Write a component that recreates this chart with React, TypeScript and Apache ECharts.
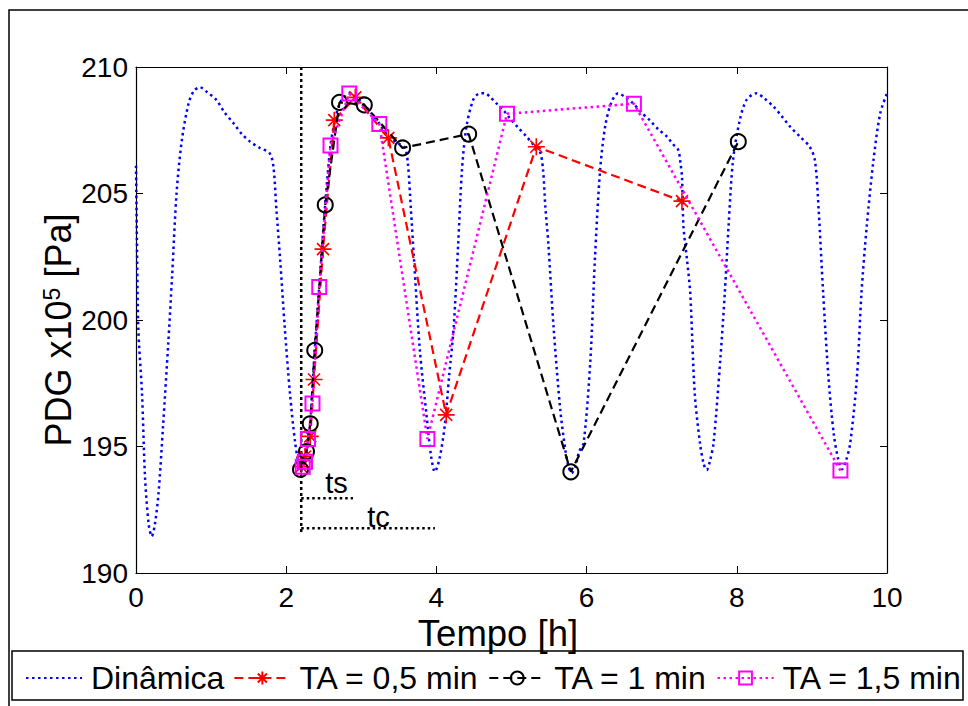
import React, { useEffect, useRef } from "react";
import * as echarts from "echarts";

// Dynamic response (blue dotted)
const dynT = [0, 0.01, 0.03, 0.08, 0.12, 0.17, 0.21, 0.25, 0.3, 0.36, 0.43, 0.48, 0.54, 0.61, 0.7, 0.77, 0.85, 0.95, 1.07, 1.18, 1.3, 1.41, 1.52, 1.65, 1.78, 1.83, 1.87, 1.92, 1.98, 2.05, 2.12, 2.17, 2.21,
  2.25, 2.29, 2.32, 2.38, 2.44, 2.52, 2.59, 2.65, 2.71, 2.78, 2.84, 2.92, 3.04, 3.14, 3.24, 3.36, 3.48, 3.58, 3.62, 3.66, 3.7, 3.78, 3.87, 3.93, 3.98,
  4.04, 4.11, 4.17, 4.23, 4.29, 4.34, 4.4, 4.49, 4.57, 4.65, 4.72, 4.8, 4.89, 4.98, 5.09, 5.2, 5.3, 5.38, 5.42, 5.45, 5.49, 5.56, 5.65, 5.72, 5.76, 5.8,
  5.85, 5.9, 5.96, 6.05, 6.11, 6.18, 6.25, 6.33, 6.42, 6.52, 6.62, 6.73, 6.84, 6.95, 7.07, 7.15, 7.22, 7.25, 7.27, 7.29, 7.34, 7.38, 7.44, 7.51, 7.56, 7.6,
  7.64, 7.69, 7.78, 7.84, 7.89, 7.95, 8.04, 8.13, 8.26, 8.37, 8.49, 8.6, 8.71, 8.84, 8.97, 9.04, 9.09, 9.15, 9.22, 9.29, 9.35, 9.4,
  9.45, 9.51, 9.6, 9.66, 9.73, 9.82, 9.91, 10.0];
const dynV = [206.1, 203.7, 199.7, 197.1, 193.8, 191.9, 191.45, 191.9, 193.15, 195.8, 199.1, 201.7, 205.0, 207.1, 208.56, 209.05, 209.2, 209.0, 208.7, 208.2, 207.77, 207.35, 207.05, 206.8, 206.59, 206.06, 204.35, 202.37, 199.74, 197.1, 195.13, 194.3, 194.1,
  194.4, 195.2, 195.9, 198.8, 201.3, 204.6, 206.9, 207.9, 208.55, 208.85, 208.96, 208.85, 208.5, 208.15, 207.77, 207.25, 207.0, 206.8, 206.2, 204.4, 202.5, 198.8, 196.2, 194.6, 194.0,
  194.5, 195.8, 197.8, 199.7, 203.0, 205.9, 207.64, 208.7, 208.95, 208.96, 208.8, 208.56, 208.3, 207.97, 207.6, 207.25, 206.9, 206.65, 205.93, 204.5, 203.03, 199.73, 196.44, 194.8, 194.2, 193.95,
  194.2, 194.8, 195.13, 198.4, 202.37, 205.93, 207.7, 208.6, 208.96, 208.8, 208.56, 208.2, 207.9, 207.55, 207.25, 206.95, 206.72, 206.2, 205.66, 203.7, 202.3, 201.06, 197.1, 195.13, 194.3, 194.07,
  194.4, 195.13, 198.42, 201.06, 203.7, 206.32, 207.9, 208.7, 208.96, 208.75, 208.43, 208.05, 207.64, 207.25, 206.85, 206.32, 204.35, 201.06, 197.76, 195.52, 194.5, 194.1,
  194.4, 195.13, 197.76, 201.06, 203.7, 206.32, 208.17, 208.96];

// TA = 0,5 min (red, stars)
const redT = [2.2, 2.25, 2.32, 2.37, 2.49, 2.64, 2.92, 3.36, 4.13, 5.33, 7.27];
const redV = [194.2, 194.6, 195.4, 197.65, 202.8, 207.9, 208.8, 207.2, 196.25, 206.85, 204.7];

// TA = 1 min (black, circles)
const blkT = [2.19, 2.27, 2.32, 2.38, 2.52, 2.71, 3.04, 3.55, 4.43, 5.79, 8.02];
const blkV = [194.1, 194.8, 195.9, 198.8, 204.55, 208.6, 208.5, 206.8, 207.35, 194.0, 207.05];

// TA = 1,5 min (magenta, squares)
const magT = [2.22, 2.25, 2.29, 2.35, 2.44, 2.59, 2.84, 3.24, 3.88, 4.94, 6.63, 9.38];
const magV = [194.2, 194.4, 195.3, 196.7, 201.3, 206.9, 208.95, 207.75, 195.3, 208.15, 208.55, 194.05];

// Annotation lines (ts, tc)
const vLineT = [2.2, 2.2];
const vLineV = [210, 191.5];
const tsT = [2.2, 2.89];
const tsV = [192.95, 192.95];
const tcT = [2.2, 3.98];
const tcV = [191.77, 191.77];
const annoLabels = ["ts", "tc"];
const annoT = [2.67, 3.23];
const annoV = [193.55, 192.2];

const xTicks = { min: 0, max: 10, interval: 2 };
const yTicks = { min: 190, max: 210, interval: 5 };
const legendNames = ["Dinâmica", "TA = 0,5 min", "TA = 1 min", "TA = 1,5 min"];

const FONT = "'Liberation Sans', Arial, Helvetica, sans-serif";
const zip = (a: number[], b: number[]) => a.map((x, i) => [x, b[i]]);

const starPath = "path://M0,-10L0,10M-10,0L10,0M-7.07,-7.07L7.07,7.07M-7.07,7.07L7.07,-7.07";

export default function App() {
  const ref = useRef<HTMLDivElement>(null);
  useEffect(() => {
    const chart = echarts.init(ref.current!, null, { renderer: "svg" });
    const dotted = { type: [2.5, 3.5] as number[], width: 2.5 };
    const dashed = { type: [9, 5] as number[], width: 2.2 };
    const axisCommon = {
      type: "value" as const,
      splitLine: { show: false },
      axisLine: { show: true, onZero: false, lineStyle: { color: "#000", width: 1.2 } },
      axisTick: { show: true, inside: true, length: 7, lineStyle: { color: "#000", width: 1 } },
    };
    const baseGraphic: any[] = [
      { type: "rect", shape: { x: 9, y: 10, width: 1000, height: 800 }, style: { fill: "none", stroke: "#000", lineWidth: 1.5 }, silent: true, z: -10 },
      { type: "rect", shape: { x: 12, y: 651, width: 951, height: 49 }, style: { fill: "#fff", stroke: "#000", lineWidth: 1.5 }, silent: true, z: -5 },
      {
        type: "text", x: 58, y: 330, rotation: Math.PI / 2,
        style: {
          text: "{a|PDG x10}{s|5}{a| [Pa]}",
          align: "center", verticalAlign: "middle",
          rich: {
            a: { fontSize: 36, fontFamily: FONT, fill: "#000" },
            s: { fontSize: 23, fontFamily: FONT, fill: "#000", verticalAlign: "top" },
          },
        },
      },
      {
        type: "text", x: 498, y: 633,
        style: { text: "Tempo [h]", align: "center", verticalAlign: "middle", fontSize: 36.5, fontFamily: FONT, fill: "#000" },
      },
    ];
    const option: any = {
      animation: false,
      backgroundColor: "#fff",
      grid: { left: 136, top: 67, width: 751, height: 506, containLabel: false },
      xAxis: [
        {
          ...axisCommon, ...xTicks, position: "bottom",
          axisLabel: { color: "#000", fontSize: 28, fontFamily: FONT, margin: 10 },
        },
        { ...axisCommon, ...xTicks, position: "top", axisLabel: { show: false } },
      ],
      yAxis: [
        {
          ...axisCommon, ...yTicks, position: "left",
          axisLabel: { color: "#000", fontSize: 28, fontFamily: FONT, margin: 8 },
        },
        { ...axisCommon, ...yTicks, position: "right", axisLabel: { show: false } },
      ],
      legend: {
        data: [
          { name: legendNames[0], itemStyle: { opacity: 0 } },
          { name: legendNames[1] },
          { name: legendNames[2] },
          { name: legendNames[3] },
        ],
        left: 20, top: 657, width: 1400,
        itemWidth: 56, itemHeight: 16, itemGap: 9,
        textStyle: { color: "#000", fontSize: 32, fontFamily: FONT, padding: [0, 0, 0, 4] },
      },
      graphic: baseGraphic,
      series: [
        {
          name: legendNames[0], type: "line", data: zip(dynT, dynV), symbol: "none",
          lineStyle: { color: "#0000ff", ...dotted }, itemStyle: { color: "#0000ff" }, smooth: 0.3, z: 2,
        },
        {
          name: legendNames[1], type: "line", data: zip(redT, redV), symbol: starPath, symbolSize: 17,
          lineStyle: { color: "#ff0000", ...dashed },
          itemStyle: { color: "#ff0000", borderColor: "#ff0000", borderWidth: 1.6 }, z: 3,
        },
        {
          name: legendNames[2], type: "line", data: zip(blkT, blkV), symbol: "circle", symbolSize: 15,
          lineStyle: { color: "#000", ...dashed },
          itemStyle: { color: "rgba(0,0,0,0)", borderColor: "#000", borderWidth: 2 }, z: 4,
        },
        {
          name: legendNames[3], type: "line", data: zip(magT, magV), symbol: "rect", symbolSize: 14,
          lineStyle: { color: "#ff00ff", ...dotted },
          itemStyle: { color: "rgba(0,0,0,0)", borderColor: "#ff00ff", borderWidth: 2 }, z: 5,
        },
        { type: "line", data: zip(vLineT, vLineV), symbol: "none", lineStyle: { color: "#000", type: [3, 3], width: 2.5 }, z: 1 },
        { type: "line", data: zip(tsT, tsV), symbol: "none", lineStyle: { color: "#000", type: [2.5, 3], width: 2.5 }, z: 1 },
        { type: "line", data: zip(tcT, tcV), symbol: "none", lineStyle: { color: "#000", type: [2.5, 3], width: 2.5 }, z: 1 },
      ],
    };
    chart.setOption(option);
    const annoGraphic = annoLabels.map((lab, i) => {
      const p = chart.convertToPixel({ gridIndex: 0 }, [annoT[i], annoV[i]]) as number[];
      return {
        type: "text", x: p[0], y: p[1],
        style: { text: lab, align: "center", verticalAlign: "middle", fontSize: 29, fontFamily: FONT, fill: "#000" },
        z: 10,
      };
    });
    chart.setOption({ graphic: [...baseGraphic, ...annoGraphic] });
    return () => chart.dispose();
  }, []);
  return <div ref={ref} style={{ width: 968, height: 706, position: "absolute", left: 0, top: 0 }} />;
}
